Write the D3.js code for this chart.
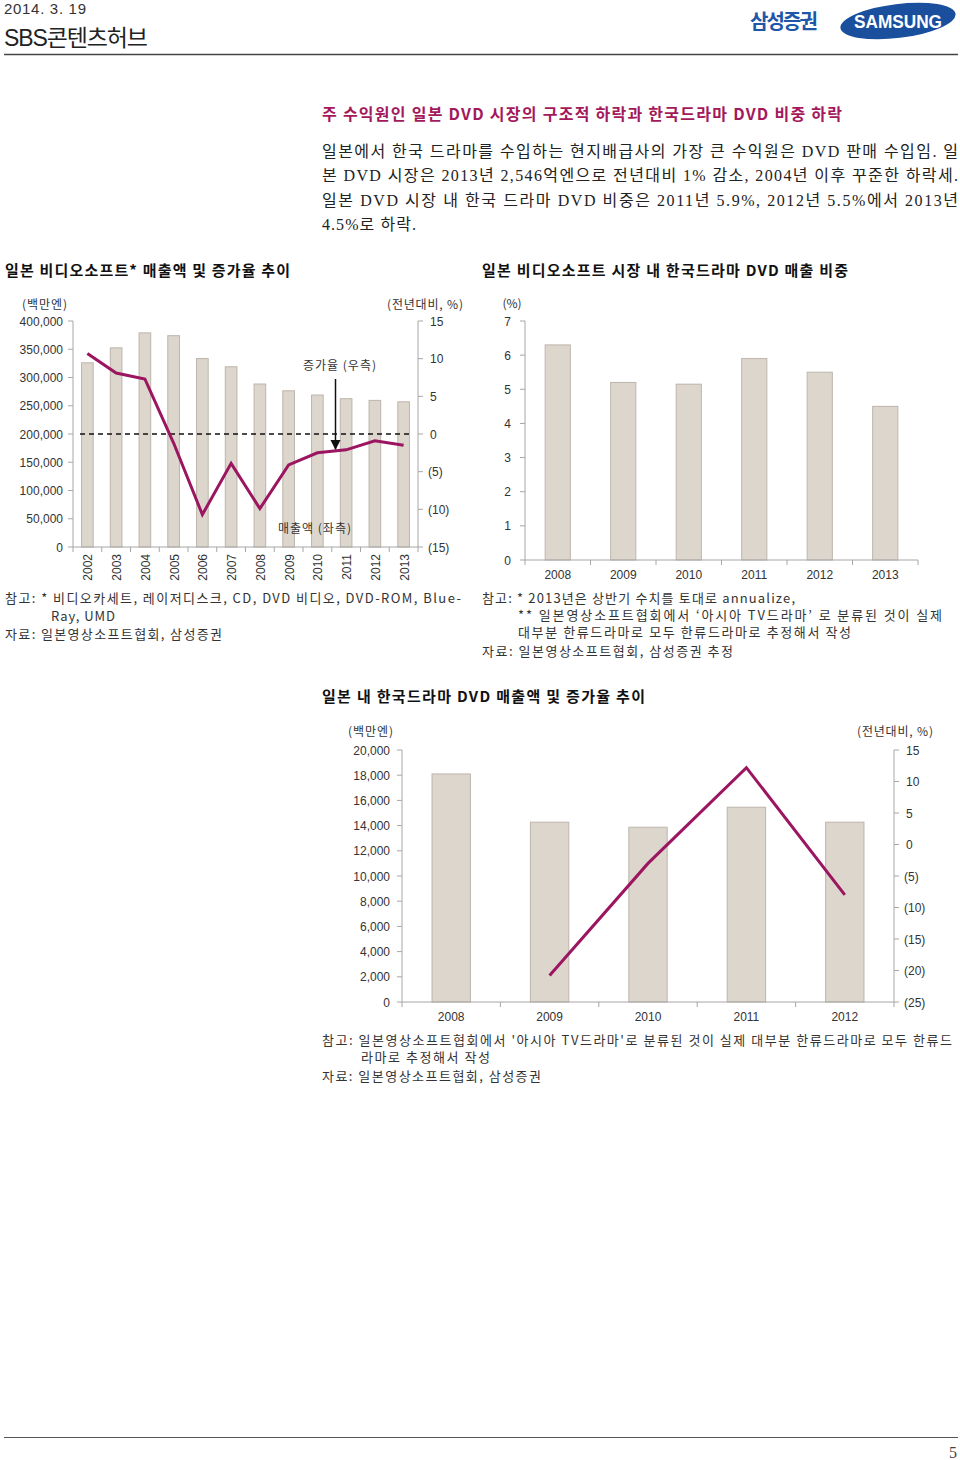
<!DOCTYPE html>
<html>
<head>
<meta charset="utf-8">
<script src="https://cdn.jsdelivr.net/npm/d3@7"></script>
<style>
  html, body { margin: 0; padding: 0; background: #fff; }
  svg { display: block; }
</style>
</head>
<body>
<div id="page"></div>
<script>
// ---- data ----
const videoYears = ["2002", "2003", "2004", "2005", "2006", "2007", "2008", "2009", "2010", "2011", "2012", "2013"];
const videoSales = [326000, 352500, 379000, 374000, 333500, 319000, 288500, 276500, 269000, 262500, 259500, 257000];
const videoGrowth = [10.7, 8.1, 7.3, -1.2, -10.7, -3.9, -9.9, -4.1, -2.5, -2.1, -0.9, -1.5];
const salesTicks = [0, 50000, 100000, 150000, 200000, 250000, 300000, 350000, 400000];
const growthTicks1 = [-15, -10, -5, 0, 5, 10, 15];

const shareYears = ["2008", "2009", "2010", "2011", "2012", "2013"];
const shareValues = [6.3, 5.2, 5.15, 5.9, 5.5, 4.5];
const shareTicks = [0, 1, 2, 3, 4, 5, 6, 7];

const dramaYears = ["2008", "2009", "2010", "2011", "2012"];
const dramaSales = [18100, 14270, 13870, 15460, 14270];
const dramaGrowth = [null, -20.8, -3.0, 12.2, -8.0];
const dramaTicks = [0, 2000, 4000, 6000, 8000, 10000, 12000, 14000, 16000, 18000, 20000];
const growthTicks3 = [-25, -20, -15, -10, -5, 0, 5, 10, 15];

// ---- styles ----
const SANS = "'Liberation Sans', Arial, 'Noto Sans CJK KR', sans-serif";
const KR = "'Noto Sans CJK KR', 'Liberation Sans', sans-serif";
const SERIF = "'Liberation Serif', 'DejaVu Serif', 'Noto Sans CJK KR', serif";
const NARROW = "'Liberation Sans Narrow', 'Liberation Sans', 'Noto Sans CJK KR', sans-serif";
const AXIS = "#a6a6a6";
const TXT = "#333";
const BAR = "#ddd6cd";
const BAR_STROKE = "#bdb5ac";
const LINE = "#9b1560";
const TITLE = "#a3195b";

const W = 960, H = 1460;
const svg = d3.select("#page").append("svg")
  .attr("width", W).attr("height", H)
  .attr("viewBox", "0 0 " + W + " " + H)
  .style("background", "#fff");

function pct(v) { return v < 0 ? "(" + Math.abs(v) + ")" : String(v); }

function text(x, y, s, size, opts) {
  opts = opts || {};
  const t = svg.append("text").attr("x", x).attr("y", y)
    .attr("font-size", size + "px")
    .attr("font-family", opts.family || KR)
    .attr("fill", opts.fill || TXT)
    .attr("font-weight", opts.weight || "normal")
    .attr("text-anchor", opts.anchor || "start")
    .text(s);
  if (opts.len) t.attr("textLength", opts.len).attr("lengthAdjust", "spacing");
  return t;
}

// ---- header / footer ----
text(4, 14, "2014. 3. 19", 15, { family: NARROW, fill: "#333", len: 82 });
text(4, 46, "SBS콘텐츠허브", 23, { family: NARROW, fill: "#222", len: 144 });
svg.append("line").attr("x1", 4).attr("x2", 958).attr("y1", 54.5).attr("y2", 54.5)
  .attr("stroke", "#444").attr("stroke-width", 1.5);

text(750, 29, "삼성증권", 20, { family: KR, fill: "#1f56a8", weight: "bold", len: 68 });
const logo = svg.append("g").attr("transform", "translate(898,21) rotate(-7)");
logo.append("ellipse").attr("rx", 58).attr("ry", 17).attr("fill", "#1a4f9e");
logo.append("text").attr("y", 6.5).attr("text-anchor", "middle")
  .attr("font-family", SANS).attr("font-weight", "bold").attr("font-size", "18px")
  .attr("fill", "#fff").attr("textLength", 88).attr("lengthAdjust", "spacingAndGlyphs")
  .attr("transform", "rotate(7)").text("SAMSUNG");

svg.append("line").attr("x1", 4).attr("x2", 958).attr("y1", 1437.5).attr("y2", 1437.5)
  .attr("stroke", "#555").attr("stroke-width", 1.2);
text(957, 1458, "5", 16, { family: SERIF, anchor: "end", fill: "#444" });

// ---- section text ----
text(322, 120, "주 수익원인 일본 DVD 시장의 구조적 하락과 한국드라마 DVD 비중 하락", 16,
  { fill: TITLE, weight: "bold", len: 520 });
const body = [
  "일본에서 한국 드라마를 수입하는 현지배급사의 가장 큰 수익원은 DVD 판매 수입임. 일",
  "본 DVD 시장은 2013년 2,546억엔으로 전년대비 1% 감소, 2004년 이후 꾸준한 하락세.",
  "일본 DVD 시장 내 한국 드라마 DVD 비중은 2011년 5.9%, 2012년 5.5%에서 2013년",
  "4.5%로 하락."
];
body.forEach(function (s, i) {
  text(322, 157 + i * 24.3, s, 16, { family: SERIF, fill: "#222", len: i < 3 ? 636 : 94 });
});

text(5, 276, "일본 비디오소프트* 매출액 및 증가율 추이", 15, { weight: "bold", fill: "#111", len: 285 });
text(482, 276, "일본 비디오소프트 시장 내 한국드라마 DVD 매출 비중", 15, { weight: "bold", fill: "#111", len: 366 });
text(322, 702, "일본 내 한국드라마 DVD 매출액 및 증가율 추이", 15, { weight: "bold", fill: "#111", len: 323 });

// ---- helpers ----
function axisLine(x1, y1, x2, y2) {
  svg.append("line").attr("x1", x1).attr("y1", y1).attr("x2", x2).attr("y2", y2)
    .attr("stroke", AXIS).attr("stroke-width", 1);
}
function leftAxis(x, y, ticks, fmt, labelX, size) {
  ticks.forEach(function (v) {
    axisLine(x - 5, y(v), x, y(v));
    text(labelX, y(v) + 4.5, fmt(v), size, { family: SANS, anchor: "end" });
  });
  axisLine(x, y.range()[0], x, y.range()[1]);
}
function rightAxis(x, y, ticks, labelX, size) {
  ticks.forEach(function (v) {
    axisLine(x, y(v), x + 5, y(v));
    text(labelX + (v < 0 ? 0 : 2), y(v) + 4.5, pct(v), size, { family: SANS });
  });
  axisLine(x, y.range()[0], x, y.range()[1]);
}
function bottomAxis(xs, y0) {
  const r = xs.range();
  axisLine(r[0], y0, r[1], y0);
  const step = (r[1] - r[0]) / xs.domain().length;
  d3.range(xs.domain().length + 1).forEach(function (i) {
    axisLine(r[0] + i * step, y0, r[0] + i * step, y0 + 5);
  });
}
function bars(xs, y, cats, vals) {
  svg.append("g").selectAll("rect").data(vals).join("rect")
    .attr("x", function (d, i) { return xs(cats[i]) + 0.5; })
    .attr("y", function (d) { return y(d); })
    .attr("width", xs.bandwidth() - 1)
    .attr("height", function (d) { return y(0) - y(d); })
    .attr("fill", BAR).attr("stroke", BAR_STROKE).attr("stroke-width", 1);
}
function growthLine(xs, y, cats, vals) {
  const line = d3.line()
    .defined(function (d) { return d != null; })
    .x(function (d, i) { return xs(cats[i]) + xs.bandwidth() / 2; })
    .y(function (d) { return y(d); });
  svg.append("path").datum(vals).attr("d", line)
    .attr("fill", "none").attr("stroke", LINE).attr("stroke-width", 3)
    .attr("stroke-linejoin", "miter");
}
function makeBand(cats, x0, x1, p) {
  return d3.scaleBand().domain(cats).range([x0, x1]).paddingInner(p).paddingOuter(p / 2);
}
const fmtK = d3.format(",");

// ---- chart 1: video software sales + growth ----
(function () {
  const x = makeBand(videoYears, 73, 418, 0.56);
  const yL = d3.scaleLinear().domain([0, 400000]).range([547, 321]);
  const yR = d3.scaleLinear().domain([-15, 15]).range([547, 321]);

  bars(x, yL, videoYears, videoSales);
  leftAxis(73, yL, salesTicks, fmtK, 63, 12);
  rightAxis(418, yR, growthTicks1, 428, 12);
  bottomAxis(x, 547);

  svg.append("line").attr("x1", 80).attr("x2", 413).attr("y1", yR(0)).attr("y2", yR(0))
    .attr("stroke", "#111").attr("stroke-width", 1.5).attr("stroke-dasharray", "5,4");
  growthLine(x, yR, videoYears, videoGrowth);

  videoYears.forEach(function (yr) {
    const cx = x(yr) + x.bandwidth() / 2 + 5;
    svg.append("text").attr("transform", "translate(" + cx + ",554) rotate(-90)")
      .attr("text-anchor", "end").attr("font-size", "12px").attr("font-family", SANS)
      .attr("fill", TXT).text(yr);
  });

  text(22, 309, "(백만엔)", 12, { fill: TXT, len: 45 });
  text(387, 309, "(전년대비, %)", 12, { fill: TXT, len: 76 });
  text(303, 370, "증가율 (우측)", 12, { len: 73 });
  text(278, 533, "매출액 (좌측)", 12, { len: 73 });

  svg.append("defs").append("marker").attr("id", "arrow")
    .attr("viewBox", "0 0 10 10").attr("refX", 9).attr("refY", 5)
    .attr("markerWidth", 7).attr("markerHeight", 7).attr("orient", "auto")
    .append("path").attr("d", "M0,0 L10,5 L0,10 z").attr("fill", "#111");
  svg.append("line").attr("x1", 335.5).attr("x2", 335.5).attr("y1", 379).attr("y2", 449)
    .attr("stroke", "#111").attr("stroke-width", 1.5).attr("marker-end", "url(#arrow)");

  text(5, 603, "참고: * 비디오카세트, 레이저디스크, CD, DVD 비디오, DVD-ROM, Blue-", 13, { len: 456 });
  text(51, 621, "Ray, UMD", 13, { len: 64 });
  text(5, 639, "자료: 일본영상소프트협회, 삼성증권", 13, { len: 217 });
})();

// ---- chart 2: share of Korean drama ----
(function () {
  const x = makeBand(shareYears, 525, 918, 0.6);
  const y = d3.scaleLinear().domain([0, 7]).range([560, 321]);

  bars(x, y, shareYears, shareValues);
  leftAxis(525, y, shareTicks, String, 511, 12);
  bottomAxis(x, 560);

  shareYears.forEach(function (yr) {
    text(x(yr) + x.bandwidth() / 2, 579, yr, 12, { family: SANS, anchor: "middle" });
  });
  text(512, 308, "(%)", 12, { anchor: "middle" });

  text(482, 603, "참고: * 2013년은 상반기 수치를 토대로 annualize,", 13, { len: 313 });
  text(518, 620, "** 일본영상소프트협회에서  ‘아시아 TV드라마’ 로 분류된 것이 실제", 13, { len: 424 });
  text(518, 637, "대부분 한류드라마로 모두 한류드라마로 추정해서 작성", 13, { len: 333 });
  text(482, 656, "자료: 일본영상소프트협회, 삼성증권 추정", 13, { len: 251 });
})();

// ---- chart 3: Korean drama DVD sales + growth ----
(function () {
  const x = makeBand(dramaYears, 402, 894, 0.6);
  const yL = d3.scaleLinear().domain([0, 20000]).range([1002, 750]);
  const yR = d3.scaleLinear().domain([-25, 15]).range([1002, 750]);

  bars(x, yL, dramaYears, dramaSales);
  leftAxis(402, yL, dramaTicks, fmtK, 390, 12);
  rightAxis(894, yR, growthTicks3, 904, 12);
  bottomAxis(x, 1002);
  growthLine(x, yR, dramaYears, dramaGrowth);

  dramaYears.forEach(function (yr) {
    text(x(yr) + x.bandwidth() / 2, 1021, yr, 12, { family: SANS, anchor: "middle" });
  });
  text(348, 736, "(백만엔)", 12, { len: 45 });
  text(857, 736, "(전년대비, %)", 12, { len: 76 });

  text(322, 1045, "참고: 일본영상소프트협회에서 '아시아 TV드라마'로 분류된 것이 실제 대부분 한류드라마로 모두 한류드", 13, { len: 630 });
  text(361, 1062, "라마로 추정해서 작성", 13, { len: 129 });
  text(322, 1081, "자료: 일본영상소프트협회, 삼성증권", 13, { len: 219 });
})();
</script>
</body>
</html>
